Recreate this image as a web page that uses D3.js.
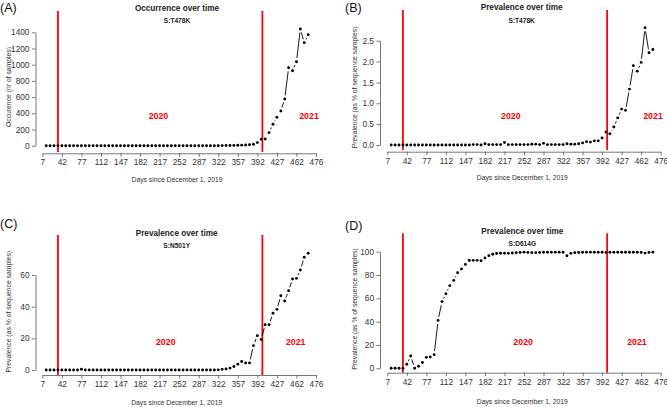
<!DOCTYPE html>
<html><head><meta charset="utf-8">
<script src="https://cdn.jsdelivr.net/npm/d3@7"></script>
<style>
body{margin:0;background:#fff}
svg{display:block}
text{font-family:"Liberation Sans",Arial,Helvetica,sans-serif}
</style>
</head><body>
<svg id="chart" width="667" height="407"></svg>
<script>
// ---------- DATA ----------
const days = [14,21,28,35,42,49,56,63,70,77,84,91,98,105,112,119,126,133,140,147,
  154,161,168,175,182,189,196,203,210,217,224,231,238,245,252,259,266,273,280,287,
  294,301,308,315,322,329,336,343,350,357,364,371,378,385,392,399,406,413,420,427,
  434,441,448,455,462,469,476,483];

const xTickValues = [7,42,77,112,147,182,217,252,287,322,357,392,427,462,497];
const xTickLabels = ["7","42","77","112","147","182","217","252","287","322","357","392","427","462","476"];

const yearLineDays = [35, 401];
const yearLabels = ["2020", "2021"];

// (A) occurrence S:T478K (nr of samples)
const occurrenceT478K = [0,0,0,0,0,0,0,0,0,0, 0,0,0,0,0,0,0,0,0,0,
  0,0,0,0,0,0,0,0,0,0, 0,0,0,0,0,0,0,0,0,0, 0,0,0,0,0,
  1,2,3,4,5,7,9,12,18,38,79,83,161,264,351,429,577,963,926,1037,1441,1272,1371];
const yTicksA = [0,200,400,600,800,1000,1200,1400];

// (B) prevalence S:T478K (%)
const prevalenceT478K = [0,0,0,0,0,0,0,0,0,0, 0,0,0,0,0,0,0,0,0,0,
  0,0.01,0.01,0,0.03,0.01,0.01,0.01,0.01,0.06, 0.01,0.01,0.01,0.01,0.01,0.01,0.02,0.02,0.01,0.04,
  0.01,0.01,0.01,0.01,0.01,0.03,0.02,0.02,0.03,0.05,
  0.08,0.07,0.10,0.10,0.17,0.31,0.27,0.43,0.65,0.86,0.83,1.34,1.90,1.77,1.98,2.81,2.21,2.29];
const yTicksB = [0,0.5,1.0,1.5,2.0,2.5];

// (C) prevalence S:N501Y (%)
const prevalenceN501Y = [0,0,0,0,0,0,0,0,0,0.5, 0,0,0,0,0,0,0,0,0,0,
  0,0,0,0,0,0,0,0,0,0, 0,0,0,0,0,0,0,0,0,0, 0,0,0,0,0.1,
  0.4,0.7,1.2,2.2,3.7,5.4,4.5,4.5,15.4,21.7,19.3,28.6,28.6,35.8,38.3,46.9,43.6,50.1,57.5,57.9,63.2,71.2,73.7];
const yTicksC = [0,20,40,60];

// (D) prevalence S:D614G (%)
const prevalenceD614G = [0,0,0,0,3.5,10.5,0,1.7,5,9.4,9.7,11.7,41.1,57.2,64,70.9,75.4,82,85.1,89.1,
  92.4,92.6,92.6,92.2,94.6,96.6,97.8,98.4,98.7,98.7,98.6,98.9,99.1,99.4,99.6,99.4,99.2,99.2,99.4,99.5,
  99.5,99.5,99.6,99.6,99.5,96.5,98.6,99.1,99.3,99.5,99.6,99.6,99.5,99.5,99.5,99.4,99.5,99.5,99.5,99.5,
  99.5,99.5,99.5,99.5,99.4,98.8,99.4,99.6];
const yTicksD = [0,20,40,60,80,100];

// ---------- LAYOUT ----------
const panels = [
  {letter:"(A)", lx:0, ly:11.5, title:"Occurrence over time", sub:"S:T478K", tx:177, ty:11, sy:23,
   ylab:"Occurence (nr of samples)", ylx:9, yly:87, xlx:177, xly:181.5,
   xr:[42.3,316], yd:[0,1400], yr:[145.7,32.3], yTicks:yTicksA, yFmt:d3.format("d"),
   axY:153.3, axX:35.5, redTop:11, redBot:152, values:occurrenceT478K,
   labPos:[[215,367],[484.5,367]]},
  {letter:"(B)", lx:345, ly:11.5, title:"Prevalence over time", sub:"S:T478K", tx:521.7, ty:10.3, sy:23,
   ylab:"Prevalence (as % of sequence samples)", ylx:355, yly:87.5, xlx:522.3, xly:180.2,
   xr:[387.3,660.7], yd:[0,2.5], yr:[145,40.7], yTicks:yTicksB, yFmt:d3.format(".1f"),
   axY:151.7, axX:380, redTop:10, redBot:150, values:prevalenceT478K,
   labPos:[[228.4,0.70],[483.2,0.70]]},
  {letter:"(C)", lx:0, ly:228, title:"Prevalence over time", sub:"S:N501Y", tx:176.7, ty:236.3, sy:248,
   ylab:"Prevalence (as % of sequence samples)", ylx:9, yly:311.7, xlx:176.7, xly:404.8,
   xr:[42.3,316], yd:[0,60], yr:[370,275], yTicks:yTicksC, yFmt:d3.format("d"),
   axY:375, axX:35.5, redTop:235, redBot:375, values:prevalenceN501Y,
   labPos:[[228,17.9],[460.6,17.9]]},
  {letter:"(D)", lx:345, ly:230.3, title:"Prevalence over time", sub:"S:D614G", tx:522.3, ty:234, sy:245.6,
   ylab:"Prevalence (as % of sequence samples)", ylx:355, yly:309, xlx:522.3, xly:404.2,
   xr:[387.3,660.7], yd:[0,100], yr:[368.3,251.7], yTicks:yTicksD, yFmt:d3.format("d"),
   axY:372.7, axX:380, redTop:233.3, redBot:372.7, values:prevalenceD614G,
   labPos:[[250.5,22.8],[454.5,22.8]]}
];

const svg = d3.select("#chart");
const GAP = 3.6, R = 1.45;

panels.forEach(p => {
  const g = svg.append("g");
  const x = d3.scaleLinear().domain([xTickValues[0], xTickValues[xTickValues.length-1]]).range(p.xr);
  const y = d3.scaleLinear().domain(p.yd).range(p.yr);

  // axes
  const xa = g.append("g").attr("transform", `translate(0,${p.axY})`)
    .call(d3.axisBottom(x).tickValues(xTickValues).tickFormat((d,i)=>xTickLabels[i])
      .tickSizeInner(3.5).tickSizeOuter(0).tickPadding(2.5));
  const ya = g.append("g").attr("transform", `translate(${p.axX},0)`)
    .call(d3.axisLeft(y).tickValues(p.yTicks).tickFormat(p.yFmt)
      .tickSizeInner(3.5).tickSizeOuter(0).tickPadding(2.5));
  [xa, ya].forEach(a => {
    a.selectAll("path,line").attr("stroke","#555").attr("stroke-width",0.8);
    a.selectAll("text").attr("fill","#333").style("font-size","8.3px");
  });

  // red year lines
  g.selectAll(".yr").data(yearLineDays).enter().append("line")
    .attr("x1", d=>x(d)).attr("x2", d=>x(d))
    .attr("y1", p.redTop).attr("y2", p.redBot)
    .attr("stroke","#ff0000").attr("stroke-width",1.8);

  // year labels
  g.selectAll(".yl").data(yearLabels).enter().append("text")
    .attr("x",(d,i)=>x(p.labPos[i][0])).attr("y",(d,i)=>y(p.labPos[i][1])+3.2)
    .attr("text-anchor","middle").attr("fill","#ff0000").attr("font-weight","bold")
    .style("font-size","8.8px").text(d=>d);

  // line segments with gaps (type "b")
  const pts = days.map((d,i)=>[x(d), y(p.values[i])]);
  for (let i=0;i<pts.length-1;i++){
    const [x1,y1]=pts[i],[x2,y2]=pts[i+1];
    const dx=x2-x1, dy=y2-y1, L=Math.hypot(dx,dy);
    if (L > 2*GAP+0.3){
      const ux=dx/L, uy=dy/L;
      g.append("line").attr("x1",x1+ux*GAP).attr("y1",y1+uy*GAP)
        .attr("x2",x2-ux*GAP).attr("y2",y2-uy*GAP)
        .attr("stroke","#000").attr("stroke-width",0.9);
    }
  }
  g.selectAll(".pt").data(p.values).enter().append("circle")
    .attr("cx",(d,i)=>x(days[i])).attr("cy",d=>y(d)).attr("r",R).attr("fill","#000");

  // titles
  g.append("text").attr("x",p.tx).attr("y",p.ty).attr("text-anchor","middle")
    .attr("font-weight","bold").attr("fill","#222").style("font-size","8.2px").text(p.title);
  g.append("text").attr("x",p.tx).attr("y",p.sy).attr("text-anchor","middle")
    .attr("font-weight","bold").attr("fill","#222").style("font-size","6.6px").text(p.sub);
  g.append("text").attr("x",p.lx).attr("y",p.ly).attr("fill","#111")
    .style("font-size","12.5px").text(p.letter);
  g.append("text").attr("x",p.xlx).attr("y",p.xly).attr("text-anchor","middle")
    .attr("fill","#333").style("font-size","6.8px").text("Days since December 1, 2019");
  g.append("text").attr("transform",`translate(${p.ylx},${p.yly}) rotate(-90)`)
    .attr("text-anchor","middle").attr("dy","0.35em")
    .attr("fill","#333").style("font-size","6.8px").text(p.ylab);
});
</script>
</body></html>
